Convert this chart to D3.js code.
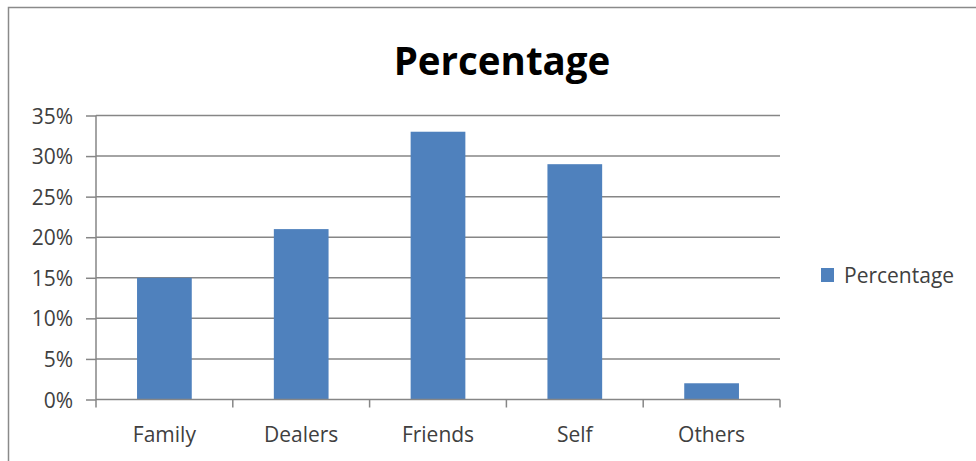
<!DOCTYPE html>
<html>
<head>
<meta charset="utf-8">
<script src="https://cdn.jsdelivr.net/npm/d3@7"></script>
<style>
  html, body { margin: 0; padding: 0; background: #fff; }
  svg { display: block; }
  text { font-family: "Open Sans", "Liberation Sans", sans-serif; }
</style>
</head>
<body>
<svg id="chart" width="976" height="461"></svg>
<script>
// Share of responses by source
const categories = ["Family", "Dealers", "Friends", "Self", "Others"];
const percentages = [0.15, 0.21, 0.33, 0.29, 0.02];
const yTicks = [0, 0.05, 0.10, 0.15, 0.20, 0.25, 0.30, 0.35];
const seriesName = "Percentage";
const chartTitle = "Percentage";

const svg = d3.select("#chart");
const W = 976, H = 461;
const plot = { left: 96, right: 780, top: 115.5, bottom: 399.5 };
const gridColor = "#868686";
const barColor = "#4f81bd";
const labelColor = "#404040";

// Outer chart frame
svg.append("rect")
  .attr("x", 8.5).attr("y", 7.5)
  .attr("width", W + 20).attr("height", H + 20)
  .attr("fill", "#fff")
  .attr("stroke", "#8a8a8a").attr("stroke-width", 1.5);

const x = d3.scaleBand()
  .domain(categories)
  .range([plot.left, plot.right])
  .paddingInner(0.6)
  .paddingOuter(0.3);

const y = d3.scaleLinear()
  .domain([0, 0.35])
  .range([plot.bottom, plot.top]);

// Horizontal gridlines
svg.append("g")
  .selectAll("line")
  .data(yTicks.filter(d => d > 0))
  .join("line")
  .attr("x1", plot.left).attr("x2", plot.right)
  .attr("y1", d => y(d)).attr("y2", d => y(d))
  .attr("stroke", gridColor).attr("stroke-width", 1.5);

// Bars
svg.append("g")
  .selectAll("rect")
  .data(categories.map((c, i) => ({ c, v: percentages[i] })))
  .join("rect")
  .attr("x", d => x(d.c))
  .attr("y", d => y(d.v))
  .attr("width", x.bandwidth())
  .attr("height", d => y(0) - y(d.v))
  .attr("fill", barColor);

// Y axis
const yAxis = d3.axisLeft(y)
  .tickValues(yTicks)
  .tickFormat(d3.format(".0%"))
  .tickSize(10)
  .tickPadding(13);

const gy = svg.append("g")
  .attr("transform", `translate(${plot.left},0)`)
  .call(yAxis);
gy.select(".domain").attr("stroke", gridColor).attr("stroke-width", 1.5)
  .attr("d", `M0,${plot.top}V${plot.bottom}`);
gy.selectAll(".tick line").attr("stroke", gridColor).attr("stroke-width", 1.5);
gy.selectAll(".tick text")
  .attr("fill", labelColor)
  .style("font-size", "21px")
  .attr("dy", "0.36em");

// X axis: category boundary ticks, labels centred under bars
svg.append("line")
  .attr("x1", plot.left).attr("x2", plot.right)
  .attr("y1", plot.bottom).attr("y2", plot.bottom)
  .attr("stroke", gridColor).attr("stroke-width", 1.5);

const step = x.step();
const boundaries = d3.range(categories.length + 1).map(i => plot.left + i * step);
svg.append("g")
  .selectAll("line")
  .data(boundaries)
  .join("line")
  .attr("x1", d => d).attr("x2", d => d)
  .attr("y1", plot.bottom).attr("y2", plot.bottom + 8)
  .attr("stroke", gridColor).attr("stroke-width", 1.5);

svg.append("g")
  .selectAll("text")
  .data(categories)
  .join("text")
  .attr("x", d => x(d) + x.bandwidth() / 2)
  .attr("y", 442)
  .attr("text-anchor", "middle")
  .attr("fill", labelColor)
  .style("font-size", "21px")
  .text(d => d);

// Title
svg.append("text")
  .attr("x", 502)
  .attr("y", 75)
  .attr("text-anchor", "middle")
  .attr("fill", "#000")
  .style("font-size", "38.5px")
  .style("font-weight", "bold")
  .text(chartTitle);

// Legend
const legend = svg.append("g");
legend.append("rect")
  .attr("x", 821).attr("y", 268)
  .attr("width", 13).attr("height", 14)
  .attr("fill", barColor);
legend.append("text")
  .attr("x", 844).attr("y", 283)
  .attr("fill", labelColor)
  .style("font-size", "21px")
  .text(seriesName);
</script>
</body>
</html>
